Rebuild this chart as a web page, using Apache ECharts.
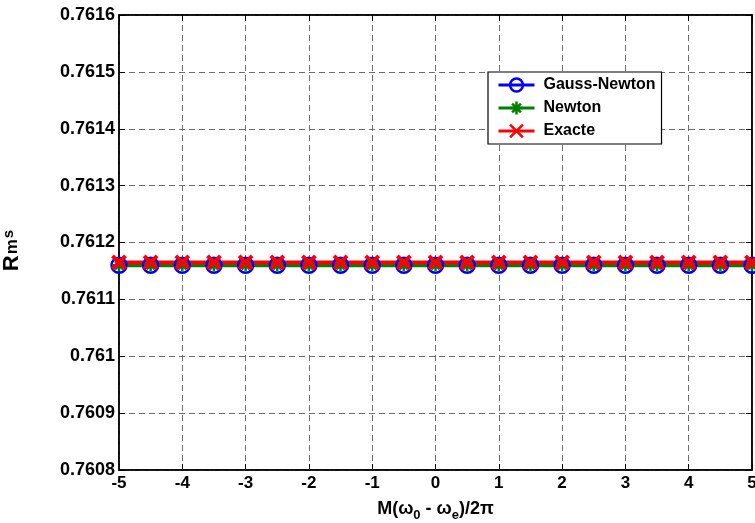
<!DOCTYPE html>
<html>
<head>
<meta charset="utf-8">
<script src="https://cdn.jsdelivr.net/npm/echarts@6/dist/echarts.min.js"></script>
<style>html,body{margin:0;padding:0;background:#fff}#c{width:755px;height:523px}</style>
</head>
<body>
<div id="c"></div>
<script>
var xValues = [-5, -4.5, -4, -3.5, -3, -2.5, -2, -1.5, -1, -0.5, 0, 0.5, 1, 1.5, 2, 2.5, 3, 3.5, 4, 4.5, 5];
var gaussNewton = [0.76116, 0.76116, 0.76116, 0.76116, 0.76116, 0.76116, 0.76116, 0.76116, 0.76116, 0.76116, 0.76116, 0.76116, 0.76116, 0.76116, 0.76116, 0.76116, 0.76116, 0.76116, 0.76116, 0.76116, 0.76116];
var newton = [0.76116, 0.76116, 0.76116, 0.76116, 0.76116, 0.76116, 0.76116, 0.76116, 0.76116, 0.76116, 0.76116, 0.76116, 0.76116, 0.76116, 0.76116, 0.76116, 0.76116, 0.76116, 0.76116, 0.76116, 0.76116];
var exacte = [0.761165, 0.761165, 0.761165, 0.761165, 0.761165, 0.761165, 0.761165, 0.761165, 0.761165, 0.761165, 0.761165, 0.761165, 0.761165, 0.761165, 0.761165, 0.761165, 0.761165, 0.761165, 0.761165, 0.761165, 0.761165];
var seriesNames = ['Gauss-Newton', 'Newton', 'Exacte'];
var yTicks = {min: 0.7608, max: 0.7616, step: 0.0001};
var xTicks = {min: -5, max: 5, step: 1};

function pairs(vals) { return vals.map(function (v, i) { return [xValues[i], v]; }); }

var FONT = 'Liberation Sans';
var asterisk = 'path://M5,0L5,10M0,5L10,5M1.6,1.6L8.4,8.4M8.4,1.6L1.6,8.4';
var cross = 'path://M0,0L10,10M10,0L0,10';

var chart = echarts.init(document.getElementById('c'), null, {renderer: 'canvas'});
var gridLine = {show: true, lineStyle: {color: '#6e6e6e', type: [6, 4], width: 1}};
chart.setOption({
  animation: false,
  backgroundColor: '#fff',
  grid: {left: 119, right: 3, top: 15, bottom: 53, show: true, borderColor: '#000', borderWidth: 1.5,
    containLabel: false, outerBoundsMode: 'none'},
  legend: {
    data: seriesNames,
    left: 488, top: 72,
    orient: 'vertical',
    backgroundColor: '#fff',
    borderColor: '#000', borderWidth: 1.2, borderRadius: 0,
    padding: [5, 6, 5, 9],
    itemWidth: 36, itemHeight: 16, itemGap: 7,
    lineStyle: {width: 3},
    itemStyle: {borderWidth: 2.5},
    textStyle: {fontFamily: FONT, fontWeight: 'bold', fontSize: 16, color: '#000', padding: [0, 0, 0, 4]}
  },
  xAxis: [{
    type: 'value', min: xTicks.min, max: xTicks.max, interval: xTicks.step,
    name: 'M(ω{sub|0} - ω{sub|e})/2π', nameLocation: 'middle', nameGap: 27,
    nameTextStyle: {fontFamily: FONT, fontWeight: 'bold', fontSize: 18, color: '#000',
      rich: {sub: {fontFamily: FONT, fontWeight: 'bold', fontSize: 13, color: '#000', padding: [12, 0, 0, 0]}}},
    axisLine: {show: true, onZero: false, lineStyle: {color: '#000', width: 1.5}},
    axisTick: {show: true, inside: true, length: 6, lineStyle: {color: '#000'}},
    axisLabel: {fontFamily: FONT, fontWeight: 'bold', fontSize: 17, color: '#000', margin: 5,
      formatter: function (v) { return String(+v.toFixed(1)); }},
    splitLine: gridLine
  }, {
    type: 'value', position: 'top', min: xTicks.min, max: xTicks.max, interval: xTicks.step,
    axisLine: {show: true, onZero: false, lineStyle: {color: '#000', width: 1.5}},
    axisTick: {show: true, inside: true, length: 6, lineStyle: {color: '#000'}},
    axisLabel: {show: false}, splitLine: {show: false}
  }],
  yAxis: [{
    type: 'value', min: yTicks.min, max: yTicks.max, interval: yTicks.step,
    name: '{r|R}{m|m}{s|s}', nameLocation: 'middle', nameGap: 96, nameRotate: 90,
    nameTextStyle: {padding: [0, 16, 0, 0], rich: {
      r: {fontFamily: FONT, fontWeight: 'bold', fontSize: 22, color: '#000'},
      m: {fontFamily: FONT, fontWeight: 'bold', fontSize: 17, color: '#000', padding: [0, 0, 0, 1]},
      s: {fontFamily: FONT, fontWeight: 'bold', fontSize: 15, color: '#000', padding: [0, 0, 6, 1]}
    }},
    axisLine: {show: true, onZero: false, lineStyle: {color: '#000', width: 1.5}},
    axisTick: {show: true, inside: true, length: 6, lineStyle: {color: '#000'}},
    axisLabel: {fontFamily: FONT, fontWeight: 'bold', fontSize: 18, color: '#000', margin: 4,
      formatter: function (v) { return String(+v.toFixed(4)); }},
    splitLine: gridLine
  }, {
    type: 'value', position: 'right', min: yTicks.min, max: yTicks.max, interval: yTicks.step,
    axisLine: {show: true, onZero: false, lineStyle: {color: '#000', width: 1.5}},
    axisTick: {show: true, inside: true, length: 6, lineStyle: {color: '#000'}},
    axisLabel: {show: false}, splitLine: {show: false}
  }],
  series: [{
    name: seriesNames[0], type: 'line', data: pairs(gaussNewton),
    symbol: 'circle', symbolSize: 15, showAllSymbol: true,
    lineStyle: {color: '#0000ff', width: 3},
    itemStyle: {color: 'rgba(255,255,255,0)', borderColor: '#0000ff', borderWidth: 2.5}
  }, {
    name: seriesNames[1], type: 'line', data: pairs(newton),
    symbol: asterisk, symbolSize: 12, showAllSymbol: true,
    lineStyle: {color: '#008000', width: 4},
    itemStyle: {color: '#008000', borderColor: '#008000', borderWidth: 2.5}
  }, {
    name: seriesNames[2], type: 'line', data: pairs(exacte),
    symbol: cross, symbolSize: 13, showAllSymbol: true,
    lineStyle: {color: '#ff0000', width: 4},
    itemStyle: {color: '#ff0000', borderColor: '#ff0000', borderWidth: 4}
  }]
});
</script>
</body>
</html>
